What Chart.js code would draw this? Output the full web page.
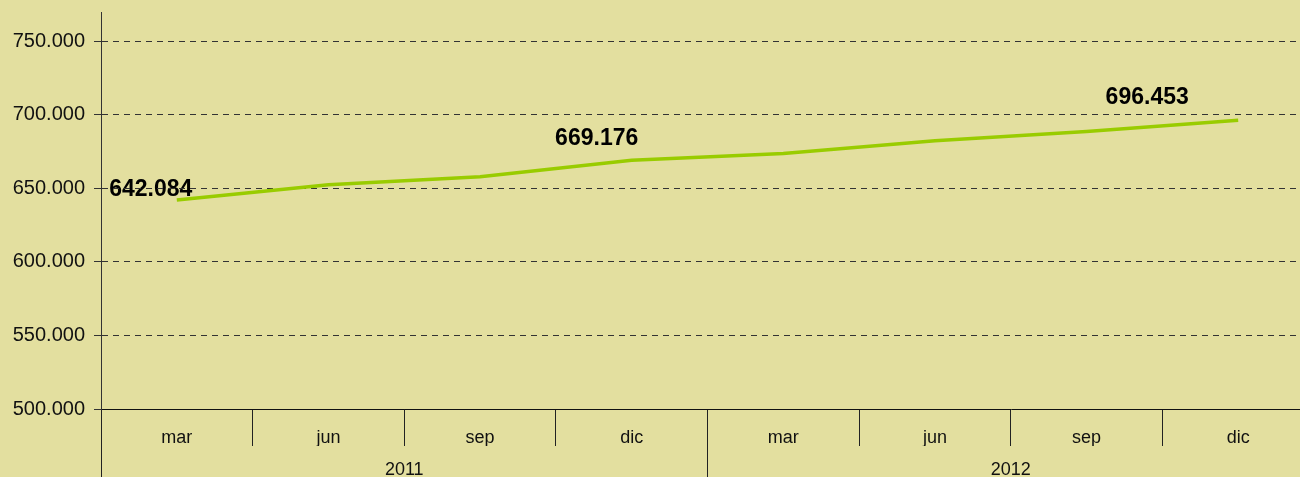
<!DOCTYPE html>
<html>
<head>
<meta charset="utf-8">
<script src="https://cdn.jsdelivr.net/npm/chart.js@4.4.1/dist/chart.umd.min.js"></script>
<style>
html, body { margin: 0; padding: 0; background: #e3df9f; overflow: hidden; }
#wrap { width: 1300px; height: 477px; overflow: hidden; }
#box { width: 1314px; height: 477px; position: relative; }
</style>
</head>
<body>
<div id="wrap"><div id="box"><canvas id="poblacio"></canvas></div></div>
<script>
var mesos = ['mar', 'jun', 'sep', 'dic', 'mar', 'jun', 'sep', 'dic'];
var anys = ['2011', '2012'];
var valors = [642084, 652500, 658000, 669176, 673700, 682500, 688700, 696453];
var marquesY = [500000, 550000, 600000, 650000, 700000, 750000];
var ambEtiqueta = [0, 3, 7]; // points that carry a value label

var font = 'Arial, "Liberation Sans", sans-serif';
var nf = new Intl.NumberFormat('es-ES', { maximumFractionDigits: 0 });

// value labels, drawn before the grid so the dashes go over them
var valueLabels = {
    id: 'valueLabels',
    beforeDraw: function (chart, args, opts) {
        var meta = chart.getDatasetMeta(0);
        var ctx = chart.ctx;
        ctx.save();
        ctx.font = 'bold 23px ' + font;
        ctx.fillStyle = '#000';
        ctx.textAlign = 'center';
        ctx.textBaseline = 'middle';
        ambEtiqueta.forEach(function (idx, k) {
            var pt = meta.data[idx];
            var off = opts.offsets[k];
            ctx.fillText(nf.format(valors[idx]), pt.x + off[0], pt.y + off[1]);
        });
        ctx.restore();
    }
};

var ctxl = document.getElementById('poblacio');
var myLineChart = new Chart(ctxl, {
    type: 'line',
    data: {
        labels: mesos,
        datasets: [{
            data: valors,
            borderColor: '#99cc00',
            borderWidth: 3.5,
            pointRadius: 0,
            tension: 0,
            fill: false
        }]
    },
    plugins: [valueLabels],
    options: {
        responsive: true,
        maintainAspectRatio: false,
        animation: false,
        layout: { padding: { top: 12, right: 0, bottom: 0, left: 0 } },
        plugins: {
            legend: { display: false },
            tooltip: { enabled: false },
            valueLabels: { offsets: [[-26, -10], [-35, -22], [-91, -22]] }
        },
        scales: {
            x: {
                type: 'category',
                position: 'bottom',
                offset: true,
                grid: { offset: true, drawOnChartArea: false, tickLength: 37, color: '#222', lineWidth: 1 },
                border: { display: true, color: '#111', width: 1 },
                ticks: { padding: -19, color: '#111', autoSkip: false, maxRotation: 0, font: { size: 18, family: font } },
                afterFit: function (s) { s.height = 37; }
            },
            x2: {
                type: 'category',
                labels: anys,
                position: 'bottom',
                offset: true,
                grid: { offset: true, drawOnChartArea: false, tickLength: 32, color: '#222', lineWidth: 1 },
                border: { display: false },
                ticks: { padding: -19, color: '#111', autoSkip: false, maxRotation: 0, font: { size: 18, family: font } },
                afterFit: function (s) { s.height = 31; }
            },
            y: {
                min: 500000,
                max: 770000,
                ticks: {
                    padding: 9,
                    color: '#111',
                    autoSkip: false,
                    font: { size: 20, family: font },
                    callback: function (v) { return nf.format(v); }
                },
                afterBuildTicks: function (s) {
                    s.ticks = marquesY.map(function (v) { return { value: v }; });
                },
                grid: { color: '#333', lineWidth: 1, tickLength: 7, tickColor: '#333' },
                border: { display: true, color: '#333', width: 1, dash: [6, 5] },
                afterFit: function (s) {
                    s.width = 101;
                    s.paddingTop = 0;
                    s.paddingBottom = 0;
                }
            }
        }
    }
});
</script>
</body>
</html>
